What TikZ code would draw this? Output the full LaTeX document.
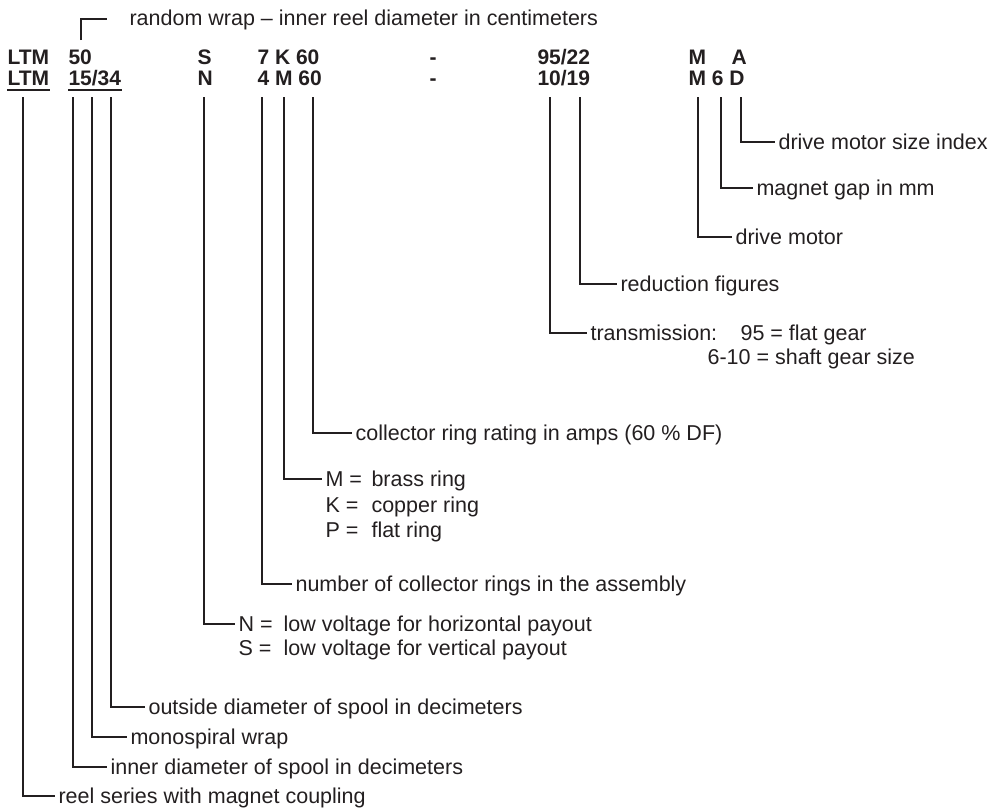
\documentclass[tikz,border=0pt]{standalone}
\usepackage{fontspec}
\setmainfont{Liberation Sans}
\definecolor{ink}{HTML}{231F20}
\begin{document}
\begin{tikzpicture}[x=1pt,y=-1pt,color=ink,line width=1.1pt,
  code/.style={font=\fontsize{21}{24}\selectfont\bfseries, inner sep=0pt, anchor=base west},
  lbl/.style={font=\fontsize{21.5}{24}\selectfont, inner xsep=3pt, inner ysep=0pt, text height=15pt, text depth=0pt, anchor=west},
  lead/.style={line width=1.1pt},
  uline/.style={line width=1.3pt}]
\useasboundingbox (0,0) rectangle (991,811);

% code rows
\node[code] (ltmA) at (7,64) {LTM};
\node[code] (c50) at (68,64) {50};
\node[code] (cS) at (197,64) {S};
\node[code] (c7K) at (257,64) {7 K 60};
\node[code] (dA) at (429,64) {-};
\node[code] (c95) at (537,64) {95/22};
\node[code] (cMa) at (688,64) {M};
\node[code] (cA) at (731,64) {A};

\node[code] (ltmB) at (7,85) {LTM};
\node[code] (c15) at (68,85) {15/34};
\node[code] (cN) at (197,85) {N};
\node[code] (c4M) at (257,85) {4 M 60};
\node[code] (dB) at (429,85) {-};
\node[code] (c10) at (537,85) {10/19};
\node[code] (cM6D) at (688,85) {M 6 D};

\draw[uline] ([yshift=-5pt]ltmB.base west) -- ([yshift=-5pt]ltmB.base east);
\draw[uline] ([yshift=-5pt]c15.base west) -- ([yshift=-5pt]c15.base east);

% random wrap bracket
\node[lbl] (rw) at (126,18) {random wrap -- inner reel diameter in centimeters};
\coordinate (rw0) at (81,40);
\coordinate (rw1) at (107,19);
\draw[lead] (rw0) |- (rw1);

% tops of leader lines
\coordinate (vLTM) at (23,97);
\coordinate (v15) at (73,97);
\coordinate (vSl) at (92,97);
\coordinate (v34) at (111,97);
\coordinate (vN) at (204,97);
\coordinate (v4) at (262,97);
\coordinate (vM) at (284,97);
\coordinate (v60) at (313,97);
\coordinate (v10) at (550,97);
\coordinate (v19) at (580,97);
\coordinate (vMM) at (698,97);
\coordinate (v6) at (721,97);
\coordinate (vD) at (741,97);

% labels
\node[lbl] (l1) at (55,796) {reel series with magnet coupling};
\node[lbl] (l2) at (107,767) {inner diameter of spool in decimeters};
\node[lbl] (l3) at (127,737) {monospiral wrap};
\node[lbl] (l4) at (145,707) {outside diameter of spool in decimeters};
\node[lbl] (l5) at (235,624) {\makebox[45pt][l]{N =}low voltage for horizontal payout};
\node[lbl] (l5b) at (235,648) {\makebox[45pt][l]{S =}low voltage for vertical payout};
\node[lbl] (l6) at (292,584) {number of collector rings in the assembly};
\node[lbl] (l7) at (322,479) {\makebox[46pt][l]{M =}brass ring};
\node[lbl] (l7b) at (322,505) {\makebox[46pt][l]{K =}copper ring};
\node[lbl] (l7c) at (322,530) {\makebox[46pt][l]{P =}flat ring};
\node[lbl] (l8) at (352,433) {collector ring rating in amps (60 \% DF)};
\node[lbl] (l9) at (587,333) {transmission:};
\node[lbl] (l9b) at (737,333) {95 = flat gear};
\node[lbl] (l9c) at (704,357) {6-10 = shaft gear size};
\node[lbl] (l10) at (617,284) {reduction figures};
\node[lbl] (l11) at (732,237) {drive motor};
\node[lbl] (l12) at (753,188) {magnet gap in mm};
\node[lbl] (l13) at (775,142) {drive motor size index};

% leaders
\draw[lead] (vLTM) |- (l1.west);
\draw[lead] (v15) |- (l2.west);
\draw[lead] (vSl) |- (l3.west);
\draw[lead] (v34) |- (l4.west);
\draw[lead] (vN) |- (l5.west);
\draw[lead] (v4) |- (l6.west);
\draw[lead] (vM) |- (l7.west);
\draw[lead] (v60) |- (l8.west);
\draw[lead] (v10) |- (l9.west);
\draw[lead] (v19) |- (l10.west);
\draw[lead] (vMM) |- (l11.west);
\draw[lead] (v6) |- (l12.west);
\draw[lead] (vD) |- (l13.west);
\end{tikzpicture}
\end{document}
